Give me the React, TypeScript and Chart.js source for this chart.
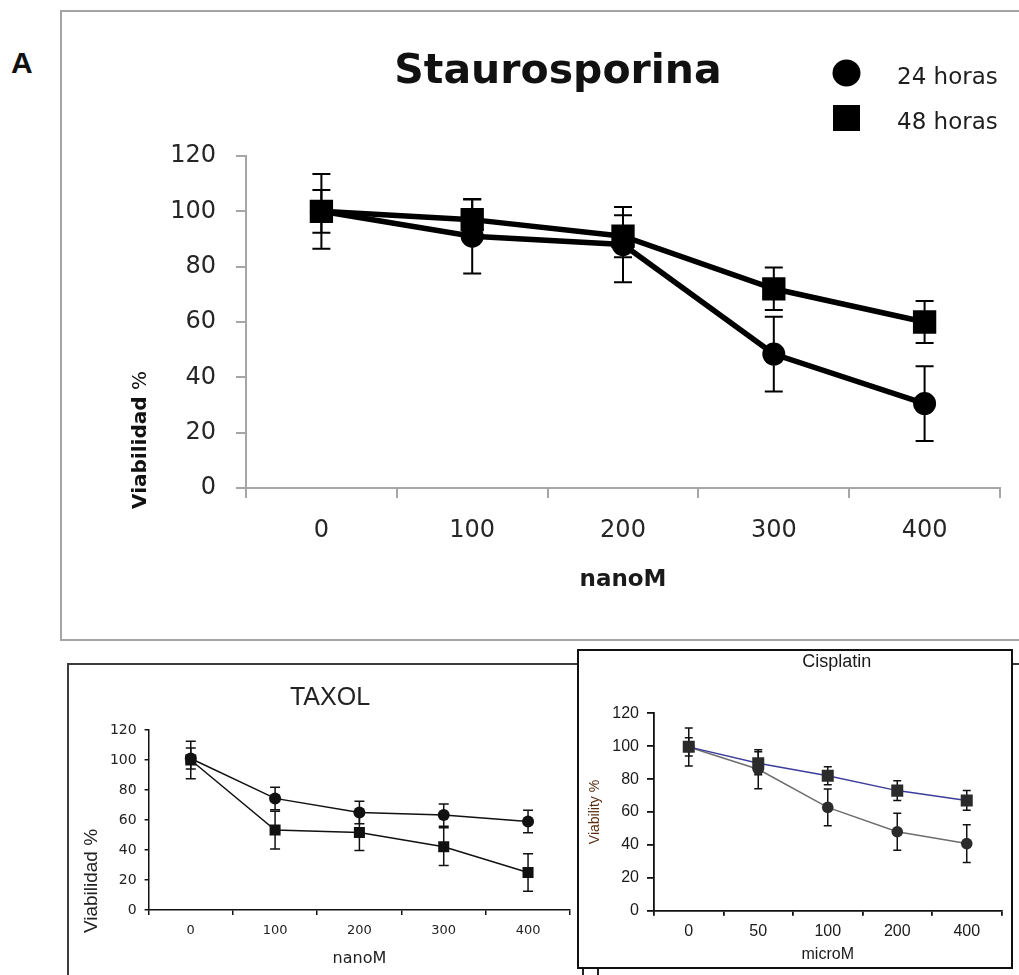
import React, { useEffect, useRef } from "react";
import { Chart, registerables } from "chart.js";

Chart.register(...registerables);

// ---------------- data ----------------
const viabilityTicks = [0, 20, 40, 60, 80, 100, 120];

// Staurosporina (nanoM)
const stauroLabels = ["0", "100", "200", "300", "400"];
const stauro24h = [100, 91, 88, 48.4, 30.5];
const stauro24hErr = [7.7, 13.5, 13.6, 13.5, 13.5];
const stauro48h = [100, 97, 91, 72, 60];
const stauro48hErr = [13.5, 7.3, 7.6, 7.7, 7.6];

// TAXOL (nanoM)
const taxolLabels = ["0", "100", "200", "300", "400"];
const taxolCircle = [101, 74.4, 65, 63.3, 59];
const taxolCircleErr = [7, 7.5, 7.5, 7.4, 7.5];
const taxolSquare = [100, 53.3, 51.6, 42.2, 25];
const taxolSquareErr = [12.5, 12.6, 12, 12.6, 12.5];

// Cisplatin (microM)
const cisLabels = ["0", "50", "100", "200", "400"];
const cisCircle = [99.5, 86, 62.8, 48, 40.8];
const cisCircleErr = [11.5, 11.8, 11.2, 11.2, 11.5];
const cisSquare = [99.6, 89.7, 82, 73, 67];
const cisSquareErr = [5.5, 7, 5.5, 6, 6];

// ---------------- helpers ----------------
const DJ = '"DejaVu Sans"';
const LS = '"Liberation Sans", Arial, sans-serif';

const errorBarPlugin = (id: string, color: string, width: number, cap: number) => ({
  id,
  beforeDatasetsDraw(chart: any) {
    const ctx = chart.ctx;
    const y = chart.scales.y;
    chart.data.datasets.forEach((ds: any, i: number) => {
      const errs = ds.errors;
      if (!errs) return;
      const meta = chart.getDatasetMeta(i);
      ctx.save();
      ctx.strokeStyle = color;
      ctx.lineWidth = width;
      meta.data.forEach((pt: any, j: number) => {
        const v = ds.data[j];
        const e = errs[j];
        const x = pt.x;
        const yt = y.getPixelForValue(v + e);
        const yb = y.getPixelForValue(v - e);
        ctx.beginPath();
        ctx.moveTo(x, yt);
        ctx.lineTo(x, yb);
        ctx.moveTo(x - cap / 2, yt);
        ctx.lineTo(x + cap / 2, yt);
        ctx.moveTo(x - cap / 2, yb);
        ctx.lineTo(x + cap / 2, yb);
        ctx.stroke();
      });
      ctx.restore();
    });
  },
});

type Part = { text: string; font: string };
type TextItem = {
  parts: Part[];
  x: number;
  y: number;
  color: string;
  align?: "left" | "center";
  rotate?: boolean;
  baseline?: CanvasTextBaseline;
};

const textPlugin = (id: string, items: TextItem[]) => ({
  id,
  afterDraw(chart: any) {
    const ctx = chart.ctx as CanvasRenderingContext2D;
    items.forEach((it) => {
      ctx.save();
      ctx.translate(it.x, it.y);
      if (it.rotate) ctx.rotate(-Math.PI / 2);
      ctx.fillStyle = it.color;
      ctx.textBaseline = it.baseline || "alphabetic";
      ctx.textAlign = "left";
      const widths = it.parts.map((p) => {
        ctx.font = p.font;
        return ctx.measureText(p.text).width;
      });
      const total = widths.reduce((a, b) => a + b, 0);
      let x = it.align === "left" ? 0 : -total / 2;
      it.parts.forEach((p, k) => {
        ctx.font = p.font;
        ctx.fillText(p.text, x, 0);
        x += widths[k];
      });
      ctx.restore();
    });
  },
});

const sideLegendPlugin = (order: number[], mx: number, y0: number, dy: number, tx: number, font: string) => ({
  id: "sideLegend",
  afterDraw(chart: any) {
    const ctx = chart.ctx as CanvasRenderingContext2D;
    order.forEach((di, k) => {
      const ds: any = chart.data.datasets[di];
      const cy = y0 + k * dy;
      ctx.save();
      ctx.fillStyle = ds.backgroundColor;
      if (ds.pointStyle === "rect") {
        ctx.fillRect(mx - 13.5, cy - 13, 27, 26);
      } else {
        ctx.beginPath();
        ctx.ellipse(mx, cy, 14, 13.5, 0, 0, Math.PI * 2);
        ctx.fill();
      }
      ctx.font = font;
      ctx.fillStyle = "#1e1e1e";
      ctx.textBaseline = "alphabetic";
      ctx.fillText(ds.label, tx, cy + 11);
      ctx.restore();
    });
  },
});

const fixedTicks = (s: any) => {
  s.ticks = viabilityTicks.map((v) => ({ value: v }));
};

// ---------------- chart configs ----------------
// Top chart canvas: left 63, top 12, 956 x 627
function stauroConfig(): any {
  const AX = "#a6a6a6";
  return {
    type: "line",
    data: {
      labels: stauroLabels,
      datasets: [
        {
          label: "48 horas",
          data: stauro48h,
          errors: stauro48hErr,
          borderColor: "#000",
          backgroundColor: "#000",
          pointBackgroundColor: "#000",
          pointBorderColor: "#000",
          borderWidth: 5.5,
          pointStyle: "rect",
          pointRadius: 16.5,
          pointBorderWidth: 0,
          tension: 0,
        },
        {
          label: "24 horas",
          data: stauro24h,
          errors: stauro24hErr,
          borderColor: "#000",
          backgroundColor: "#000",
          pointBackgroundColor: "#000",
          pointBorderColor: "#000",
          borderWidth: 5.5,
          pointStyle: "circle",
          pointRadius: 11.5,
          pointBorderWidth: 0,
          tension: 0,
        },
      ],
    },
    options: {
      responsive: false,
      animation: false,
      layout: { padding: { left: 103, top: 144, right: 19, bottom: 31 } },
      plugins: { legend: { display: false }, title: { display: false }, tooltip: { enabled: false } },
      scales: {
        x: {
          type: "category",
          offset: true,
          grid: { offset: true, drawOnChartArea: false, color: AX, lineWidth: 2, tickLength: 10 },
          border: { display: true, color: AX, width: 2 },
          ticks: { font: { family: DJ, size: 24 }, color: "#262626", padding: 18 },
          title: {
            display: true,
            text: "nanoM",
            font: { family: DJ, size: 23, weight: "bold" },
            color: "#1a1a1a",
            padding: { top: 0, bottom: 14 },
          },
          afterFit: (s: any) => {
            s.height = 120;
          },
        },
        y: {
          min: 0,
          max: 120,
          afterBuildTicks: fixedTicks,
          grid: { drawOnChartArea: false, color: AX, lineWidth: 2, tickLength: 10 },
          border: { display: true, color: AX, width: 2 },
          ticks: { font: { family: DJ, size: 24 }, color: "#262626", padding: 20 },
          afterFit: (s: any) => {
            s.width = 80;
          },
        },
      },
    },
    plugins: [
      errorBarPlugin("eb1", "#000", 2, 18),
      textPlugin("txt1", [
        { parts: [{ text: "Staurosporina", font: `bold 41px ${DJ}` }], x: 495, y: 71, color: "#111" },
        {
          parts: [
            { text: "Viabilidad", font: `bold 20px ${DJ}` },
            { text: " %", font: `20px ${DJ}` },
          ],
          x: 78,
          y: 428,
          rotate: true,
          baseline: "middle",
          color: "#111",
        },
      ]),
      sideLegendPlugin([1, 0], 783.5, 61, 45, 834, `23px ${DJ}`),
    ],
  };
}

// TAXOL canvas: left 70, top 666, 508 x 309
function taxolConfig(): any {
  const AX = "#111";
  return {
    type: "line",
    data: {
      labels: taxolLabels,
      datasets: [
        {
          label: "circle",
          data: taxolCircle,
          errors: taxolCircleErr,
          borderColor: "#111",
          backgroundColor: "#111",
          pointBackgroundColor: "#111",
          pointBorderColor: "#111",
          borderWidth: 1.5,
          pointStyle: "circle",
          pointRadius: 6,
          pointBorderWidth: 0,
          tension: 0,
        },
        {
          label: "square",
          data: taxolSquare,
          errors: taxolSquareErr,
          borderColor: "#111",
          backgroundColor: "#111",
          pointBackgroundColor: "#111",
          pointBorderColor: "#111",
          borderWidth: 1.5,
          pointStyle: "rect",
          pointRadius: 7.8,
          pointBorderWidth: 0,
          tension: 0,
        },
      ],
    },
    options: {
      responsive: false,
      animation: false,
      layout: { padding: { left: 38.6, top: 64, right: 6, bottom: 5 } },
      plugins: { legend: { display: false }, title: { display: false }, tooltip: { enabled: false } },
      scales: {
        x: {
          type: "category",
          offset: true,
          grid: { offset: true, drawOnChartArea: false, color: AX, lineWidth: 1.5, tickLength: 5 },
          border: { display: true, color: AX, width: 1.5 },
          ticks: { font: { family: DJ, size: 13 }, color: "#222", padding: 8.2 },
          title: {
            display: true,
            text: "nanoM",
            font: { family: DJ, size: 16 },
            color: "#222",
            padding: { top: 0, bottom: 1.4 },
          },
          afterFit: (s: any) => {
            s.height = 60;
          },
        },
        y: {
          min: 0,
          max: 120,
          afterBuildTicks: fixedTicks,
          grid: { drawOnChartArea: false, color: AX, lineWidth: 1.5, tickLength: 4 },
          border: { display: true, color: AX, width: 1.5 },
          ticks: { font: { family: DJ, size: 14 }, color: "#222", padding: 8 },
          afterFit: (s: any) => {
            s.width = 40;
          },
        },
      },
    },
    plugins: [
      errorBarPlugin("eb2", "#111", 1.5, 10),
      textPlugin("txt2", [
        { parts: [{ text: "TAXOL", font: `25px ${LS}` }], x: 260, y: 39, color: "#222" },
        {
          parts: [{ text: "Viabilidad %", font: `19px ${LS}` }],
          x: 22,
          y: 215,
          rotate: true,
          baseline: "middle",
          color: "#222",
        },
        { parts: [{ text: "'", font: `14px ${LS}` }], x: 61, y: 128, color: "#333" },
      ]),
    ],
  };
}

// Cisplatin canvas: left 580, top 652, 430 x 316
function cisConfig(): any {
  const AX = "#111";
  return {
    type: "line",
    data: {
      labels: cisLabels,
      datasets: [
        {
          label: "square",
          data: cisSquare,
          errors: cisSquareErr,
          borderColor: "#3d3d9c",
          backgroundColor: "#2b2b2b",
          pointBackgroundColor: "#2b2b2b",
          pointBorderColor: "#2b2b2b",
          borderWidth: 1.5,
          pointStyle: "rect",
          pointRadius: 8.5,
          pointBorderWidth: 0,
          tension: 0,
        },
        {
          label: "circle",
          data: cisCircle,
          errors: cisCircleErr,
          borderColor: "#6e6e6e",
          backgroundColor: "#2b2b2b",
          pointBackgroundColor: "#2b2b2b",
          pointBorderColor: "#2b2b2b",
          borderWidth: 1.5,
          pointStyle: "circle",
          pointRadius: 5.8,
          pointBorderWidth: 0,
          tension: 0,
        },
      ],
    },
    options: {
      responsive: false,
      animation: false,
      layout: { padding: { left: 0, top: 61.3, right: 4.3, bottom: 1.3 } },
      plugins: { legend: { display: false }, title: { display: false }, tooltip: { enabled: false } },
      scales: {
        x: {
          type: "category",
          offset: true,
          grid: { offset: true, drawOnChartArea: false, color: AX, lineWidth: 1.8, tickLength: 5 },
          border: { display: true, color: AX, width: 1.8 },
          ticks: { font: { family: LS, size: 16 }, color: "#1a1a1a", padding: 6.7 },
          title: {
            display: true,
            text: "microM",
            font: { family: LS, size: 16 },
            color: "#1a1a1a",
            padding: { top: 0, bottom: 2.1 },
          },
          afterFit: (s: any) => {
            s.height = 56;
          },
        },
        y: {
          min: 0,
          max: 120,
          afterBuildTicks: fixedTicks,
          grid: { drawOnChartArea: false, color: AX, lineWidth: 1.8, tickLength: 7 },
          border: { display: true, color: AX, width: 1.8 },
          ticks: { font: { family: LS, size: 16 }, color: "#1a1a1a", padding: 8 },
          title: {
            display: true,
            text: "Viability %",
            font: { family: LS, size: 14 },
            color: "#5a2d12",
            padding: { top: 6.6, bottom: 0 },
          },
          afterFit: (s: any) => {
            s.width = 74;
          },
        },
      },
    },
    plugins: [
      errorBarPlugin("eb3", "#111", 1.5, 8),
      textPlugin("txt3", [
        { parts: [{ text: "Cisplatin", font: `18px ${LS}` }], x: 256.7, y: 15, color: "#1a1a1a" },
      ]),
    ],
  };
}

// ---------------- components ----------------
function ChartCanvas(props: { left: number; top: number; width: number; height: number; make: () => any }) {
  const ref = useRef<HTMLCanvasElement>(null);
  useEffect(() => {
    const chart = new Chart(ref.current as HTMLCanvasElement, props.make());
    return () => chart.destroy();
  }, []);
  return (
    <canvas
      ref={ref}
      width={props.width}
      height={props.height}
      style={{ position: "absolute", left: props.left, top: props.top, width: props.width, height: props.height }}
    />
  );
}

export default function App() {
  return (
    <div
      style={{
        position: "absolute",
        left: 0,
        top: 0,
        width: 1019,
        height: 975,
        overflow: "hidden",
        background: "#fff",
      }}
    >
      <div
        style={{
          position: "absolute",
          left: 60,
          top: 10,
          width: 1100,
          height: 631,
          border: "2px solid #a5a5a5",
          boxSizing: "border-box",
        }}
      />
      <ChartCanvas left={63} top={12} width={956} height={627} make={stauroConfig} />
      <div
        style={{
          position: "absolute",
          left: 67,
          top: 663,
          width: 1100,
          height: 400,
          border: "2px solid #3c3c3c",
          boxSizing: "border-box",
        }}
      />
      <ChartCanvas left={70} top={666} width={508} height={309} make={taxolConfig} />
      <div
        style={{
          position: "absolute",
          left: 577,
          top: 649,
          width: 436,
          height: 320,
          border: "2px solid #111",
          boxSizing: "border-box",
          background: "#fff",
        }}
      />
      <ChartCanvas left={580} top={652} width={430} height={316} make={cisConfig} />
      <div style={{ position: "absolute", left: 582, top: 969, width: 2, height: 6, background: "#222" }} />
      <div style={{ position: "absolute", left: 597, top: 969, width: 2, height: 6, background: "#222" }} />
      <div
        style={{
          position: "absolute",
          left: 11,
          top: 47.6,
          fontFamily: '"Liberation Sans", Arial, sans-serif',
          fontWeight: "bold",
          fontSize: 30,
          lineHeight: "30px",
          color: "#111",
        }}
      >
        A
      </div>
    </div>
  );
}
